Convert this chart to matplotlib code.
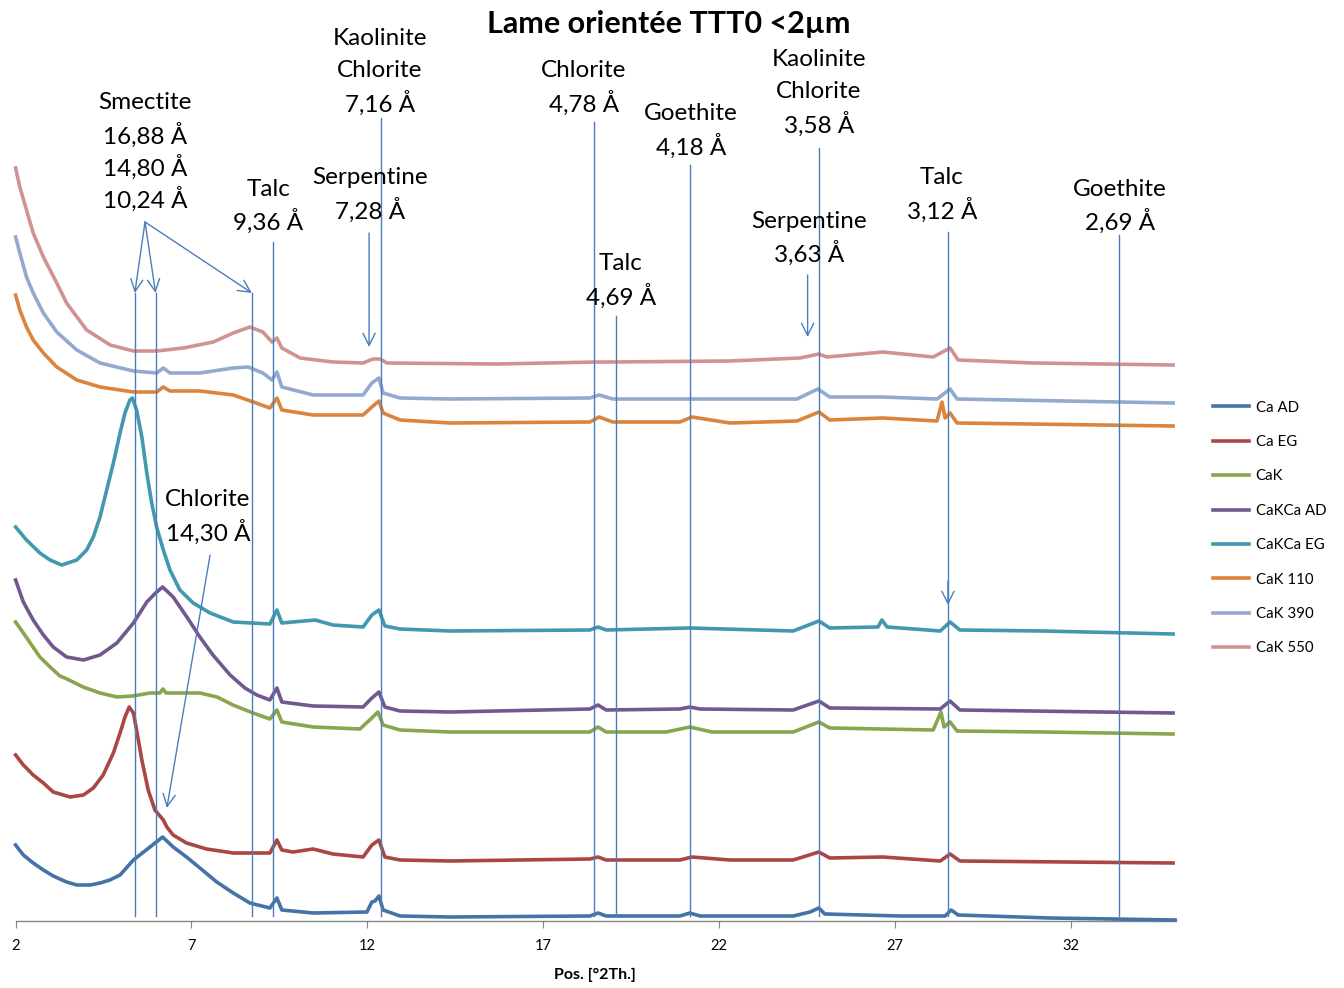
import matplotlib
matplotlib.use("Agg")
import matplotlib.pyplot as plt

plt.rcParams["font.family"] = ["Lato", "DejaVu Sans"]

# ---------------------------------------------------------------- data
# intensities are in arbitrary offset units (stacked patterns)
series_names = ["Ca AD", "Ca EG", "CaK", "CaKCa AD", "CaKCa EG",
                "CaK 110", "CaK 390", "CaK 550"]
series_colors = ["#4572A7", "#AA4643", "#89A54E", "#71588F", "#4198AF",
                 "#DB843D", "#93A9CF", "#D19392"]

ca_ad_2th = [2.00, 2.22, 2.50, 2.79, 3.07, 3.45, 3.74, 4.12, 4.40, 4.68, 4.97, 5.35,
             5.82, 6.18, 6.48, 6.86, 7.24, 7.72, 8.19, 8.66, 9.23, 9.43, 9.57, 10.46,
             11.99, 12.13, 12.22, 12.33, 12.45, 12.93, 14.35, 18.33, 18.56, 18.79,
             20.89, 21.17, 21.46, 23.17, 24.11, 24.59, 24.84, 25.01, 27.15, 28.43,
             28.60, 28.80, 31.41, 34.97]
ca_ad_int = [76, 66, 58, 51, 45, 39, 36, 36, 38, 41, 46, 61, 74, 84, 74, 64, 53, 39,
             28, 18, 13, 23, 11, 8, 9, 19, 20, 25, 11, 5, 4, 5, 8, 5, 5, 8, 5, 5, 5,
             9, 13, 7, 5, 5, 11, 6, 3, 1]

ca_eg_2th = [2.00, 2.22, 2.50, 2.79, 3.07, 3.55, 3.93, 4.21, 4.49, 4.78, 4.97, 5.11,
             5.23, 5.35, 5.44, 5.59, 5.77, 5.96, 6.20, 6.30, 6.48, 6.86, 7.43, 8.19,
             9.23, 9.43, 9.57, 9.89, 10.46, 11.02, 11.88, 12.13, 12.33, 12.50, 12.93,
             14.35, 18.33, 18.56, 18.79, 20.89, 21.23, 22.31, 24.11, 24.84, 25.15,
             26.66, 28.29, 28.57, 28.85, 34.91]
ca_eg_int = [166, 156, 146, 138, 129, 124, 126, 133, 146, 168, 188, 204, 214, 208, 191,
             161, 131, 111, 101, 94, 86, 78, 72, 68, 68, 81, 71, 69, 72, 67, 64, 76,
             81, 64, 61, 60, 62, 64, 61, 61, 64, 61, 61, 69, 63, 64, 60, 67, 60, 58]

cak_2th = [2.00, 2.32, 2.69, 2.98, 3.26, 3.46, 3.92, 4.40, 4.88, 5.34, 5.82, 6.10,
           6.19, 6.28, 7.24, 7.73, 8.18, 8.75, 9.23, 9.43, 9.57, 10.46, 11.79, 12.13,
           12.30, 12.45, 12.93, 14.35, 18.33, 18.56, 18.79, 20.50, 21.17, 21.80, 24.11,
           24.84, 25.15, 28.09, 28.31, 28.40, 28.57, 28.77, 31.21, 34.91]
cak_int = [299, 283, 264, 254, 245, 242, 234, 228, 224, 225, 228, 228, 232, 228, 228,
           224, 216, 208, 202, 211, 199, 194, 192, 203, 209, 196, 191, 189, 189, 194,
           189, 189, 194, 189, 189, 199, 193, 191, 209, 194, 199, 190, 189, 187]

cakca_ad_2th = [2.00, 2.22, 2.50, 2.79, 3.07, 3.45, 3.93, 4.40, 4.88, 5.35, 5.73, 6.01,
                6.18, 6.48, 6.87, 7.24, 7.61, 8.10, 8.52, 8.86, 9.23, 9.43, 9.57,
                10.46, 11.88, 12.13, 12.33, 12.50, 12.93, 14.35, 18.33, 18.56, 18.79,
                20.89, 21.17, 21.46, 24.11, 24.84, 25.15, 28.29, 28.57, 28.85, 34.91]
cakca_ad_int = [341, 319, 301, 286, 274, 264, 261, 266, 278, 298, 319, 329, 334, 324,
                304, 284, 266, 246, 233, 226, 221, 233, 219, 215, 214, 223, 229, 214,
                210, 209, 212, 216, 211, 212, 214, 212, 211, 220, 213, 212, 220, 211,
                208]

cakca_eg_2th = [2.00, 2.31, 2.69, 2.98, 3.31, 3.74, 4.02, 4.21, 4.40, 4.59, 4.78, 4.97,
                5.11, 5.25, 5.32, 5.44, 5.59, 5.73, 5.87, 6.01, 6.20, 6.39, 6.67, 7.05,
                7.53, 8.19, 9.23, 9.43, 9.57, 10.52, 11.02, 11.88, 12.13, 12.33, 12.50,
                12.93, 14.35, 18.33, 18.56, 18.79, 21.17, 24.11, 24.84, 25.15, 26.52,
                26.63, 26.78, 28.29, 28.57, 28.85, 31.21, 34.91]
cakca_eg_int = [394, 381, 368, 361, 356, 361, 371, 384, 404, 431, 458, 488, 508, 521,
                523, 511, 484, 448, 418, 394, 371, 351, 331, 318, 308, 299, 297, 311,
                298, 301, 296, 294, 306, 311, 295, 292, 290, 291, 294, 291, 293, 290,
                300, 293, 294, 301, 294, 290, 299, 291, 290, 287]

cak110_2th = [2.00, 2.12, 2.31, 2.50, 2.79, 3.17, 3.74, 4.40, 5.35, 6.01, 6.20, 6.39,
              7.24, 8.19, 8.76, 9.23, 9.43, 9.57, 10.46, 11.88, 12.13, 12.33, 12.45,
              12.93, 14.35, 18.33, 18.59, 18.98, 20.89, 21.23, 22.31, 24.22, 24.84,
              25.15, 26.66, 28.20, 28.34, 28.43, 28.57, 28.77, 34.91]
cak110_int = [626, 611, 594, 581, 568, 554, 541, 534, 529, 529, 534, 530, 530, 526,
              519, 513, 523, 511, 506, 506, 514, 520, 508, 501, 498, 499, 504, 499, 499,
              504, 498, 500, 509, 501, 503, 500, 519, 503, 508, 498, 495]

cak390_2th = [2.00, 2.12, 2.31, 2.50, 2.79, 3.17, 3.74, 4.40, 5.35, 6.01, 6.20, 6.39,
              7.24, 8.19, 8.61, 9.03, 9.29, 9.43, 9.57, 10.46, 11.88, 12.13, 12.33,
              12.45, 12.93, 14.35, 18.33, 18.59, 18.98, 22.31, 24.22, 24.81, 25.15,
              26.66, 28.20, 28.57, 28.77, 34.91]
cak390_int = [684, 668, 644, 628, 608, 589, 571, 558, 550, 548, 553, 548, 548, 553,
              554, 548, 541, 549, 534, 526, 526, 538, 543, 528, 523, 522, 523, 526, 522,
              522, 522, 532, 524, 524, 522, 532, 522, 518]

cak550_2th = [2.00, 2.12, 2.31, 2.50, 2.79, 3.17, 3.45, 4.02, 4.69, 5.35, 6.01, 6.77,
              7.62, 8.19, 8.66, 9.03, 9.29, 9.43, 9.57, 10.09, 11.02, 11.88, 12.16,
              12.36, 12.56, 15.69, 18.53, 18.98, 22.31, 24.30, 24.84, 25.07, 26.66,
              28.09, 28.57, 28.80, 30.93, 34.91]
cak550_int = [753, 734, 711, 688, 664, 638, 618, 591, 576, 570, 570, 573, 579, 588,
              594, 589, 579, 583, 573, 563, 559, 558, 562, 562, 558, 557, 559, 559, 560,
              563, 567, 564, 569, 564, 573, 561, 558, 556]

x_ticks = [2, 7, 12, 17, 22, 27, 32]

# ---------------------------------------------------------------- figure
fig = plt.figure(figsize=(13.44, 9.88), dpi=100)
ax = fig.add_axes([15.6 / 1344, 67 / 988, 35.17 * 33 / 1344, 921 / 988])
ax.set_xlim(2, 35)
ax.set_ylim(0, 921)

curves = [(ca_ad_2th, ca_ad_int), (ca_eg_2th, ca_eg_int), (cak_2th, cak_int),
          (cakca_ad_2th, cakca_ad_int), (cakca_eg_2th, cakca_eg_int),
          (cak110_2th, cak110_int), (cak390_2th, cak390_int), (cak550_2th, cak550_int)]
handles = []
for (xs, ys), name, col in zip(curves, series_names, series_colors):
    ln, = ax.plot(xs, ys, color=col, lw=2.6, label=name, clip_on=False,
                  solid_joinstyle="round", zorder=3)
    handles.append(ln)

for s in ("top", "left", "right"):
    ax.spines[s].set_visible(False)
ax.spines["bottom"].set_color("#868686")
ax.spines["bottom"].set_linewidth(1.0)
ax.set_yticks([])
ax.set_xticks(x_ticks)
ax.tick_params(axis="x", direction="out", length=5, color="#868686",
               labelsize=10.5, pad=8)

# ---------------------------------------------------------------- annotations
LC = "#4A7EBB"
vlines = [(5.39, 628), (5.98, 628), (8.72, 628), (9.33, 679), (12.39, 803),
          (18.45, 799), (19.06, 605), (21.18, 756), (24.84, 773), (28.51, 689),
          (33.37, 686)]
for xv, ytop in vlines:
    ax.plot([xv, xv], [5, ytop], color=LC, lw=1.0, zorder=4, clip_on=False)


def arrow(x0, y0, x1, y1):
    ax.annotate("", xy=(x1, y1), xytext=(x0, y0),
                arrowprops=dict(arrowstyle="->", color=LC, lw=1.0,
                                mutation_scale=22, shrinkA=0, shrinkB=0),
                zorder=4, annotation_clip=False)


for xv in (5.39, 5.98, 8.72):
    arrow(5.68, 699, xv, 628)
arrow(12.05, 688, 12.05, 574)
arrow(24.52, 646, 24.52, 584)
arrow(7.53, 366, 6.30, 113)
arrow(28.51, 340, 28.51, 316)


def label(x, y_top, lines):
    for i, t in enumerate(lines):
        ax.text(x, y_top - 32 * i, t, ha="center", va="center", fontsize=17.5,
                color="black", zorder=5, clip_on=False)


label(5.68, 818, ["Smectite", "16,88 Å", "14,80 Å", "10,24 Å"])
label(9.18, 732, ["Talc", "9,36 Å"])
label(12.08, 743, ["Serpentine", "7,28 Å"])
label(12.36, 882, ["Kaolinite", "Chlorite", "7,16 Å"])
label(18.16, 850, ["Chlorite", "4,78 Å"])
label(19.21, 657, ["Talc", "4,69 Å"])
label(21.20, 807, ["Goethite", "4,18 Å"])
label(24.84, 861, ["Kaolinite", "Chlorite", "3,58 Å"])
label(24.56, 700, ["Serpentine", "3,63 Å"])
label(28.34, 743, ["Talc", "3,12 Å"])
label(33.40, 732, ["Goethite", "2,69 Å"])
label(7.47, 421, ["Chlorite", "14,30 Å"])

fig.text(669 / 1344, 1 - 24 / 988, "Lame orientée TTT0 <2µm", ha="center",
         va="center", fontsize=22, fontweight="bold")
fig.text(595 / 1344, 1 - 975 / 988, "Pos. [°2Th.]", ha="center", va="center",
         fontsize=11.5, fontweight="bold")

fig.legend(handles=handles, loc="center left", bbox_to_anchor=(1213 / 1344, 1 - 528 / 988),
           frameon=False, fontsize=10.8, handlelength=2.4, handletextpad=0.45,
           labelspacing=1.36, borderaxespad=0, borderpad=0)

fig.savefig("out.png", dpi=100)
